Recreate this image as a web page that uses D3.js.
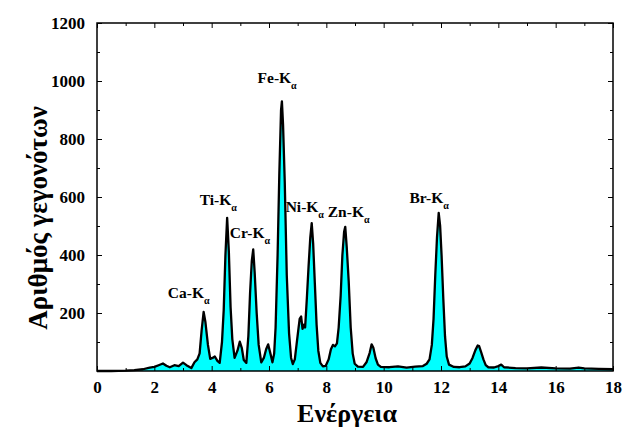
<!DOCTYPE html>
<html>
<head>
<meta charset="utf-8">
<script src="https://cdn.jsdelivr.net/npm/d3@7"></script>
<style>
  body { margin: 0; background: #fff; }
</style>
</head>
<body>
<div id="vis"></div>
<script>
const FRAME_WIDTH = 625;
const FRAME_HEIGHT = 441;
const MARGINS = {left: 97, right: 12, top: 23, bottom: 70};
const VIS_WIDTH = FRAME_WIDTH - MARGINS.left - MARGINS.right;
const VIS_HEIGHT = FRAME_HEIGHT - MARGINS.top - MARGINS.bottom;
const FONT = "'Liberation Serif', 'Times New Roman', Times, 'DejaVu Serif', serif";

// spectrum (energy in keV, counts)
const energy = [
  0, 0.5, 1.0, 1.3, 1.6, 1.84, 2.0, 2.15, 2.3, 2.42, 2.54, 2.7, 2.85, 3.0, 3.12, 3.29, 3.4, 3.5,
  3.58, 3.65, 3.72, 3.78, 3.87, 3.95, 4.03, 4.11, 4.2, 4.28, 4.36, 4.42, 4.48, 4.54, 4.6, 4.66,
  4.72, 4.8, 4.9, 4.98, 5.05, 5.12, 5.21, 5.28, 5.34, 5.4, 5.45, 5.5, 5.57, 5.64, 5.73, 5.82,
  5.9, 5.97, 6.05, 6.12, 6.18, 6.23, 6.3, 6.36, 6.42, 6.45, 6.49, 6.55, 6.62, 6.7, 6.77, 6.83,
  6.9, 6.96, 7.02, 7.07, 7.12, 7.17, 7.22, 7.26, 7.32, 7.38, 7.44, 7.49, 7.54, 7.6, 7.66, 7.72,
  7.79, 7.88, 7.98, 8.08, 8.16, 8.23, 8.3, 8.37, 8.43, 8.5, 8.56, 8.62, 8.66, 8.71, 8.78, 8.85,
  8.92, 8.99, 9.1, 9.28, 9.4, 9.51, 9.58, 9.64, 9.72, 9.8, 9.9, 10.2, 10.5, 10.8, 11.1, 11.37,
  11.5, 11.6, 11.68, 11.74, 11.8, 11.86, 11.92, 11.97, 12.02, 12.08, 12.14, 12.2, 12.28, 12.45,
  12.65, 12.85, 13.0, 13.1, 13.2, 13.28, 13.33, 13.4, 13.48, 13.56, 13.65, 13.85, 14.0, 14.1,
  14.2, 14.6, 15.0, 15.5, 16.0, 16.5, 16.8, 17.0, 17.5, 18.0
];
const counts = [
  0, 0, 1, 3, 6, 12, 14, 20, 26, 18, 13, 20, 17, 29, 20, 10, 30, 40,
  61, 140, 204, 170, 90, 42, 45, 50, 35, 28, 100, 210, 400, 528, 410, 220,
  110, 45, 70, 101, 80, 38, 28, 120, 270, 380, 419, 340, 200, 90, 30, 45,
  75, 92, 60, 30, 60, 150, 400, 680, 900, 930, 850, 650, 330, 130, 45, 24,
  40, 90, 140, 180, 188, 145, 160, 150, 250, 360, 460, 510, 440, 300, 160, 70,
  28, 16, 18, 40, 75, 90, 85, 95, 150, 260, 400, 480, 497, 430, 310, 150,
  60, 25, 15, 14, 30, 62, 92, 80, 44, 22, 14, 13, 16, 12, 15, 17,
  25, 40, 90, 180, 330, 460, 545, 500, 400, 250, 120, 50, 22, 14,
  13, 16, 26, 45, 72, 88, 86, 65, 40, 20, 13, 12, 17, 22,
  13, 10, 9, 12, 9, 8, 12, 9, 7, 6
];

// peak labels: element, anchor energy, anchor counts (text start / baseline)
const peakNames = ["Ca", "Ti", "Cr", "Fe", "Ni", "Zn", "Br"];
const peakLabelE = [2.47, 3.58, 4.63, 5.60, 6.58, 8.05, 10.90];
const peakLabelC = [251, 572, 458, 992, 548, 530, 579];

const xTicks = [0, 2, 4, 6, 8, 10, 12, 14, 16, 18];
const yTicks = [200, 400, 600, 800, 1000, 1200];

const svg = d3.select("#vis")
  .append("svg")
    .attr("width", FRAME_WIDTH)
    .attr("height", FRAME_HEIGHT)
    .style("font-family", FONT)
    .style("font-weight", "bold");

const g = svg.append("g")
  .attr("transform", "translate(" + MARGINS.left + "," + MARGINS.top + ")");

const X_SCALE = d3.scaleLinear().domain([0, 18]).range([0, VIS_WIDTH]);
const Y_SCALE = d3.scaleLinear().domain([0, 1200]).range([VIS_HEIGHT, 0]);

const pts = energy.map((e, i) => [e, counts[i]]);

// filled area under the spectrum
g.append("path")
  .datum(pts)
  .attr("fill", "#00ffff")
  .attr("d", d3.area()
    .x(d => X_SCALE(d[0]))
    .y0(Y_SCALE(0))
    .y1(d => Y_SCALE(d[1])));

// spectrum line
g.append("path")
  .datum(pts)
  .attr("fill", "none")
  .attr("stroke", "#000")
  .attr("stroke-width", 2.3)
  .attr("stroke-linejoin", "round")
  .attr("d", d3.line()
    .x(d => X_SCALE(d[0]))
    .y(d => Y_SCALE(d[1])));

// axes, ticks pointing inward on all four sides
const minorX = d3.range(1, 18, 2);
const minorY = d3.range(100, 1200, 200);

function styleAxis(sel) {
  sel.attr("font-family", FONT).attr("font-weight", "bold");
  sel.select(".domain").remove();
  sel.selectAll("line").attr("stroke", "#000").attr("stroke-width", 1);
  sel.selectAll("text").attr("font-size", "17px").attr("fill", "#000");
}

g.append("g")
  .attr("transform", "translate(0," + VIS_HEIGHT + ")")
  .call(d3.axisBottom(X_SCALE).tickValues(xTicks).tickSize(-5).tickPadding(10).tickFormat(d3.format("d")))
  .call(styleAxis);
g.append("g")
  .attr("transform", "translate(0," + VIS_HEIGHT + ")")
  .call(d3.axisBottom(X_SCALE).tickValues(minorX).tickSize(-3).tickFormat(""))
  .call(styleAxis);
g.append("g")
  .call(d3.axisTop(X_SCALE).tickValues(xTicks).tickSize(-5).tickFormat(""))
  .call(styleAxis);
g.append("g")
  .call(d3.axisTop(X_SCALE).tickValues(minorX).tickSize(-3).tickFormat(""))
  .call(styleAxis);

g.append("g")
  .call(d3.axisLeft(Y_SCALE).tickValues(yTicks).tickSize(-5).tickPadding(12).tickFormat(d3.format("d")))
  .call(styleAxis);
g.append("g")
  .call(d3.axisLeft(Y_SCALE).tickValues(minorY).tickSize(-3).tickFormat(""))
  .call(styleAxis);
g.append("g")
  .attr("transform", "translate(" + VIS_WIDTH + ",0)")
  .call(d3.axisRight(Y_SCALE).tickValues(yTicks).tickSize(-5).tickFormat(""))
  .call(styleAxis);
g.append("g")
  .attr("transform", "translate(" + VIS_WIDTH + ",0)")
  .call(d3.axisRight(Y_SCALE).tickValues(minorY).tickSize(-3).tickFormat(""))
  .call(styleAxis);

// frame
g.append("rect")
  .attr("width", VIS_WIDTH)
  .attr("height", VIS_HEIGHT)
  .attr("fill", "none")
  .attr("stroke", "#000")
  .attr("stroke-width", 1.5);

// peak labels with subscript alpha
const labels = g.selectAll(".peak")
  .data(peakNames)
  .enter()
  .append("text")
    .attr("class", "peak")
    .attr("x", (d, i) => X_SCALE(peakLabelE[i]))
    .attr("y", (d, i) => Y_SCALE(peakLabelC[i]))
    .attr("font-family", FONT)
    .attr("font-weight", "bold")
    .attr("font-size", "15.5px")
    .attr("fill", "#000");
labels.append("tspan").text(d => d + "-K");
labels.append("tspan")
  .attr("font-size", "10px")
  .attr("dy", 6)
  .text("α");

// axis titles
svg.append("text")
  .attr("x", 347)
  .attr("y", 422)
  .attr("text-anchor", "middle")
  .attr("font-family", FONT)
  .attr("font-weight", "bold")
  .attr("font-size", "26px")
  .text("Ενέργεια");

svg.append("text")
  .attr("transform", "translate(47,218) rotate(-90)")
  .attr("text-anchor", "middle")
  .attr("font-family", FONT)
  .attr("font-weight", "bold")
  .attr("font-size", "27px")
  .text("Αριθμός γεγονότων");
</script>
</body>
</html>
